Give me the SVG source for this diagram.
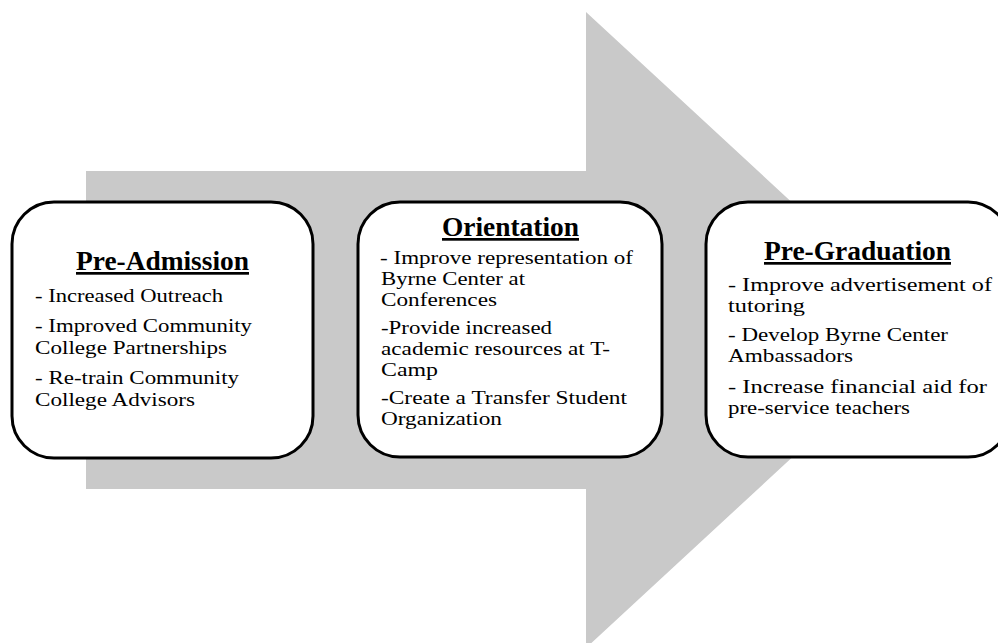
<svg xmlns="http://www.w3.org/2000/svg" width="998" height="643" viewBox="0 0 998 643">
<style>
.box{fill:#fff;stroke:#000;stroke-width:3}
.t{font-family:"Liberation Serif","Times New Roman",serif;font-weight:bold;font-size:27px;text-decoration:underline;fill:#000}
.b{font-family:"Liberation Serif","Times New Roman",serif;font-size:19px;fill:#000}
</style>
<rect width="998" height="643" fill="#fff"/>
<g id="connectors">
<path id="big-arrow" d="M86,171 H586 V12 L930,330 L586,648 V489 H86 Z" fill="#c9c9c9"/>
</g>
<g id="pre-admission">
<rect class="box" x="12" y="202" width="301" height="256" rx="42" ry="42"/>
<text class="t" x="76" y="270" textLength="173" lengthAdjust="spacingAndGlyphs">Pre-Admission</text>
<text class="b" x="35" y="302" textLength="188" lengthAdjust="spacingAndGlyphs">- Increased Outreach</text>
<text class="b" x="35" y="332" textLength="217" lengthAdjust="spacingAndGlyphs">- Improved Community</text>
<text class="b" x="35" y="354" textLength="192" lengthAdjust="spacingAndGlyphs">College Partnerships</text>
<text class="b" x="35" y="384" textLength="204" lengthAdjust="spacingAndGlyphs">- Re-train Community</text>
<text class="b" x="35" y="406" textLength="160" lengthAdjust="spacingAndGlyphs">College Advisors</text>
</g>
<g id="orientation">
<rect class="box" x="358" y="202" width="304" height="255" rx="42" ry="42"/>
<text class="t" x="442" y="236" textLength="137" lengthAdjust="spacingAndGlyphs">Orientation</text>
<text class="b" x="380" y="264" textLength="253" lengthAdjust="spacingAndGlyphs">- Improve representation of</text>
<text class="b" x="381" y="285" textLength="144" lengthAdjust="spacingAndGlyphs">Byrne Center at</text>
<text class="b" x="381" y="306" textLength="116" lengthAdjust="spacingAndGlyphs">Conferences</text>
<text class="b" x="381" y="334" textLength="171" lengthAdjust="spacingAndGlyphs">-Provide increased</text>
<text class="b" x="381" y="355" textLength="229" lengthAdjust="spacingAndGlyphs">academic resources at T-</text>
<text class="b" x="381" y="376" textLength="57" lengthAdjust="spacingAndGlyphs">Camp</text>
<text class="b" x="381" y="404" textLength="246" lengthAdjust="spacingAndGlyphs">-Create a Transfer Student</text>
<text class="b" x="381" y="425" textLength="121" lengthAdjust="spacingAndGlyphs">Organization</text>
</g>
<g id="pre-graduation">
<rect class="box" x="706" y="202" width="304" height="255" rx="42" ry="42"/>
<text class="t" x="764" y="260" textLength="187" lengthAdjust="spacingAndGlyphs">Pre-Graduation</text>
<text class="b" x="728" y="291" textLength="264" lengthAdjust="spacingAndGlyphs">- Improve advertisement of</text>
<text class="b" x="728" y="312" textLength="77" lengthAdjust="spacingAndGlyphs">tutoring</text>
<text class="b" x="728" y="341" textLength="220" lengthAdjust="spacingAndGlyphs">- Develop Byrne Center</text>
<text class="b" x="728" y="362" textLength="125" lengthAdjust="spacingAndGlyphs">Ambassadors</text>
<text class="b" x="728" y="393" textLength="259" lengthAdjust="spacingAndGlyphs">- Increase financial aid for</text>
<text class="b" x="728" y="414" textLength="182" lengthAdjust="spacingAndGlyphs">pre-service teachers</text>
</g>
</svg>
